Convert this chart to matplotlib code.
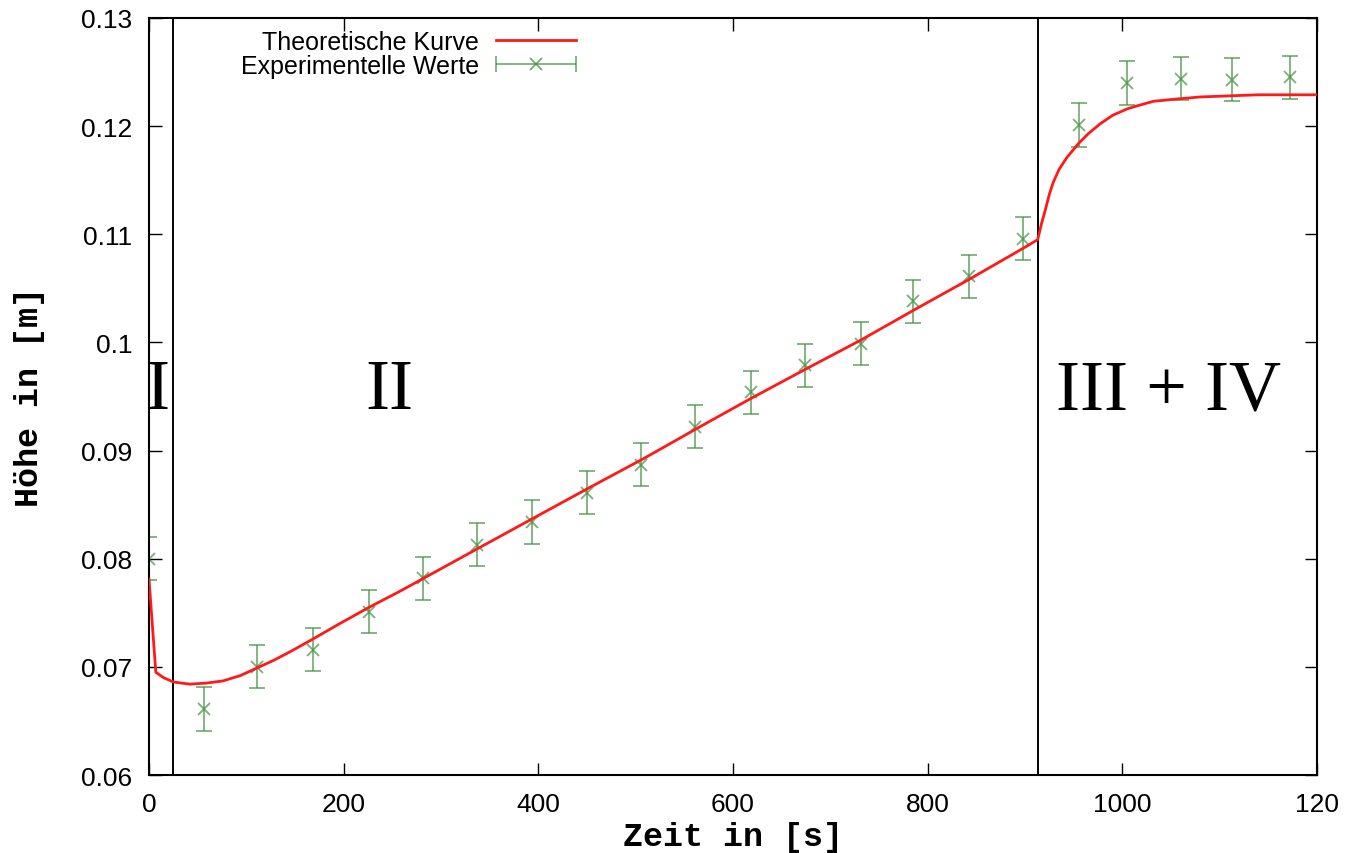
import numpy as np
import matplotlib
matplotlib.use('Agg')
import matplotlib.pyplot as plt
from matplotlib.container import ErrorbarContainer
from matplotlib.legend_handler import HandlerErrorbar

# measured heights with their uncertainty
zeit_exp = [0, 56, 111, 168, 226, 281, 337, 393, 450, 505, 561, 618, 674, 731, 785, 842, 898, 955, 1005, 1060, 1113, 1172]
hoehe_exp = [0.0800, 0.0661, 0.0700, 0.0716, 0.0751, 0.0782, 0.0813, 0.0834, 0.0861, 0.0887, 0.0922,
             0.0954, 0.0979, 0.0999, 0.1038, 0.1061, 0.1096, 0.1201, 0.1240, 0.1244, 0.1243, 0.1245]
fehler_exp = [0.002] * len(zeit_exp)

# model curve
zeit_theo = [0, 7, 15, 25, 42, 59, 76, 94, 111, 128, 145, 167, 196, 226, 258, 339, 400, 453, 509, 566,
             618, 674, 731, 786, 842, 898, 913, 917, 921, 925, 929, 935, 943, 955, 965, 977, 990, 1005,
             1020, 1032, 1055, 1080, 1110, 1140, 1200]
hoehe_theo = [0.0781, 0.0695, 0.0690, 0.0686, 0.0684, 0.0685, 0.0687, 0.0692, 0.0699, 0.0706, 0.0714,
              0.0725, 0.0740, 0.0755, 0.0770, 0.0810, 0.0840, 0.0866, 0.0893, 0.0922, 0.0948, 0.0975,
              0.1002, 0.1030, 0.1058, 0.1087, 0.1095, 0.1110, 0.1123, 0.1137, 0.1148, 0.1160, 0.1171,
              0.1184, 0.1193, 0.1202, 0.1210, 0.1216, 0.1220, 0.1223, 0.1225, 0.1227, 0.1228, 0.1229,
              0.1229]

# phase boundaries
grenzen = [25, 913]
phasen = ['I', 'II', 'III + IV']
phasen_x = [9, 247, 1047]

xticks = [0, 200, 400, 600, 800, 1000, 1200]
xtick_labels = ['0', '200', '400', '600', '800', '1000', '120']
yticks = [0.06, 0.07, 0.08, 0.09, 0.10, 0.11, 0.12, 0.13]
ytick_labels = ['0.06', '0.07', '0.08', '0.09', '0.1', '0.11', '0.12', '0.13']

gruen = '#3f8f3f'
rot = '#ff1a1a'

fig = plt.figure(figsize=(13.51, 8.54), dpi=100)
ax = fig.add_axes([149/1351, 78/854, 1168/1351, 757/854])

for g in grenzen:
    ax.axvline(g, color='k', lw=1.4, zorder=1)

theo, = ax.plot(zeit_theo, hoehe_theo, color=rot, lw=2.0, zorder=3, label='Theoretische Kurve')

eb = ax.errorbar(zeit_exp, hoehe_exp, yerr=fehler_exp, fmt='x', color=gruen, ms=9, mew=1.3,
                 elinewidth=1.3, capsize=5.5, capthick=1.3, alpha=0.7, zorder=2)

# gnuplot-like key entry: horizontal bar with caps
proxy = ErrorbarContainer((eb[0], eb[1], eb[2]), has_xerr=True, has_yerr=False,
                          label='Experimentelle Werte')

for name, xp in zip(phasen, phasen_x):
    ax.text(xp, 0.0939, name, family='Liberation Serif', fontsize=52,
            ha='center', va='baseline', zorder=4)

ax.set_xlim(0, 1200)
ax.set_ylim(0.06, 0.13)
ax.set_xticks(xticks)
ax.set_xticklabels(xtick_labels)
ax.set_yticks(yticks)
ax.set_yticklabels(ytick_labels)
ax.tick_params(direction='in', length=9, width=1.0, top=True, right=True, pad=12,
               labelsize=19)
for lab in ax.get_xticklabels() + ax.get_yticklabels():
    lab.set_family('Liberation Sans')
for s in ax.spines.values():
    s.set_linewidth(1.5)

ax.set_xlabel('Zeit in [s]', family='Liberation Mono', weight='bold', fontsize=24, labelpad=4)
ax.set_ylabel('Höhe in [m]', family='Liberation Mono', weight='bold', fontsize=24, labelpad=26)

leg = ax.legend([theo, proxy], ['Theoretische Kurve', 'Experimentelle Werte'],
                loc='upper right', bbox_to_anchor=(0.366, 0.984), frameon=False,
                markerfirst=False, numpoints=1, handlelength=3.2, handletextpad=0.7,
                labelspacing=0.0, borderpad=0, borderaxespad=0,
                prop={'family': 'Liberation Sans', 'size': 18},
                handler_map={ErrorbarContainer: HandlerErrorbar(xerr_size=1.6)})

fig.savefig('out.png', dpi=100)
